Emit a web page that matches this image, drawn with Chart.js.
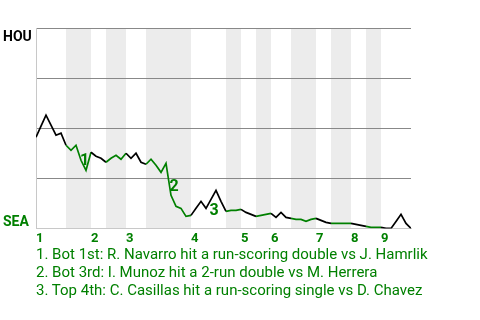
<!DOCTYPE html>
<html>
<head>
<meta charset="utf-8">
<script src="https://cdn.jsdelivr.net/npm/chart.js@4"></script>
<style>
  body { margin: 0; background: #fff; }
  #wrap { position: absolute; left: 0; top: 0; width: 480px; height: 253px; }
  #notes { position: absolute; left: 36px; top: 245px; font: 15px Roboto, sans-serif; color: #008000; line-height: 18px; white-space: nowrap; }
</style>
</head>
<body>
<div id="wrap"><canvas id="chart"></canvas></div>
<div id="notes"></div>
<script>
// win probability chart, HOU on top, SEA on the bottom
const innings = ['1', '2', '3', '4', '5', '6', '7', '8', '9']
const inningStart = [0, 11, 18, 31, 41, 47, 56, 63, 69]
const bottomHalves = [[6, 11], [14, 18], [22, 31], [38, 41], [44, 47], [51, 56], [59, 63], [66, 69]]
const lastEvent = 75

// HOU win % after each plate appearance
const houWin = [
  45.5, 51, 56.5, 51.5, 46.5, 47.5, 41.5, 39, 41.5, 34,
  29, 38, 36, 35, 33, 35, 36.5, 34.5, 37.5, 35,
  37.5, 33, 32, 34.5, 31.5, 28, 32.5, 16.5, 11, 10,
  6, 6.5, 10, 13.5, 10, 14.5, 19, 13.5, 8.5, 9,
  9, 9.5, 8, 7, 6, 6.5, 7, 7.5, 5.5, 8,
  5.5, 5, 4.5, 4.5, 3.5, 4.5, 5, 4, 3, 2.5,
  2.5, 2.5, 2.5, 2.5, 2, 1.5, 1, 0.5, 0.5, 0.5,
  0, 0, 3.5, 7, 2.5, 0
]

// key plays
const markLabels = ['1', '2', '3']
const markX = [9.7, 27.6, 35.6]
const markY = [33.5, 20.75, 8.5]
const notes = [
  '1. Bot 1st: R. Navarro hit a run-scoring double vs J. Hamrlik',
  '2. Bot 3rd: I. Munoz hit a 2-run double vs M. Herrera',
  '3. Top 4th: C. Casillas hit a run-scoring single vs D. Chavez'
]

const green = '#008000'

const isBottom = (x) => bottomHalves.some(h => x >= h[0] && x < h[1])

const points = houWin.map((v, i) => ({ x: i, y: v }))

const bands = {
  id: 'bands',
  beforeDraw(chart) {
    const { ctx, chartArea, scales } = chart
    ctx.save()
    ctx.fillStyle = '#ececec'
    bottomHalves.forEach(h => {
      const x0 = scales.x.getPixelForValue(h[0])
      const x1 = scales.x.getPixelForValue(h[1])
      ctx.fillRect(x0, chartArea.top, x1 - x0, chartArea.bottom - chartArea.top)
    })
    ctx.restore()
  }
}

const labels = {
  id: 'labels',
  afterDatasetsDraw(chart) {
    const { ctx, scales } = chart
    ctx.save()
    ctx.font = 'bold 14px Roboto, sans-serif'
    ctx.textAlign = 'left'
    ctx.fillStyle = '#000'
    ctx.textBaseline = 'top'
    ctx.fillText('HOU', 3, scales.y.getPixelForValue(100) + 2)
    ctx.fillStyle = green
    ctx.textBaseline = 'bottom'
    ctx.fillText('SEA', 3, scales.y.getPixelForValue(0) + 1)
    ctx.font = 'bold 16px Roboto, sans-serif'
    ctx.textAlign = 'center'
    ctx.textBaseline = 'middle'
    markLabels.forEach((t, i) => {
      ctx.fillText(t, scales.x.getPixelForValue(markX[i]), scales.y.getPixelForValue(markY[i]))
    })
    ctx.restore()
  }
}

new Chart(document.getElementById('chart'), {
  type: 'line',
  data: {
    datasets: [{
      data: points,
      borderWidth: 1.7,
      borderColor: '#000',
      pointRadius: 0,
      tension: 0,
      segment: {
        borderColor: c => isBottom(c.p0.parsed.x) ? green : '#000'
      }
    }]
  },
  options: {
    responsive: true,
    maintainAspectRatio: false,
    animation: false,
    layout: { padding: { left: 36, right: 69, top: 28, bottom: 3 } },
    plugins: { legend: { display: false }, tooltip: { enabled: false } },
    scales: {
      x: {
        type: 'linear',
        min: 0,
        max: lastEvent,
        grid: { display: false, drawTicks: false },
        border: { color: '#c8c8c8', width: 1 },
        afterBuildTicks: (axis) => { axis.ticks = inningStart.map(v => ({ value: v })) },
        ticks: {
          autoSkip: false,
          maxRotation: 0,
          align: 'start',
          padding: 3,
          color: green,
          font: { family: 'Roboto', size: 13, weight: 'bold' },
          callback: (v, i) => innings[i]
        }
      },
      y: {
        min: 0,
        max: 100,
        ticks: { display: false, stepSize: 25 },
        grid: {
          drawTicks: false,
          color: c => c.tick.value === 0 ? 'rgba(0,0,0,0)' : '#888'
        },
        border: { color: '#c8c8c8', width: 1 }
      }
    }
  },
  plugins: [bands, labels]
})

document.getElementById('notes').innerHTML = notes.map(n => '<div>' + n + '</div>').join('')
</script>
</body>
</html>
